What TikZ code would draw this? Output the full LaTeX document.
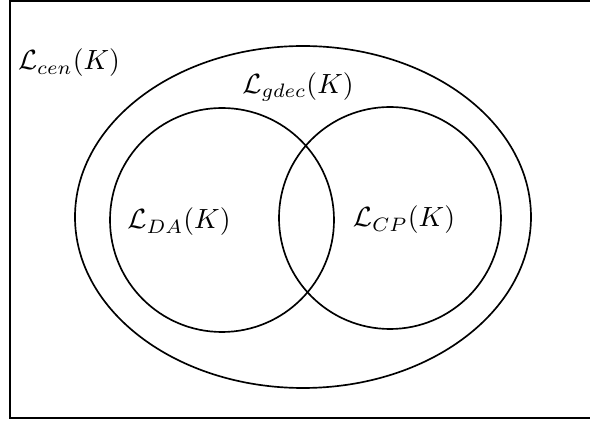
\documentclass[tikz,border=0pt]{standalone}
\usepackage{amsmath,amssymb}
\usepackage{tikz}
\usetikzlibrary{positioning}

\begin{document}
\begin{tikzpicture}[
  x=0.36pt,y=-0.36pt,
  set/.style={draw=black,line width=0.6pt},
  frame/.style={draw=black,line width=0.7pt},
  lab/.style={inner sep=0pt,font=\normalsize},
]
\useasboundingbox (0,0) rectangle (590,423);
% outer frame (open to the right)
\draw[frame] (590,1) -- (10,1) -- (10,418) -- (590,418);

% sets
\draw[set] (303,217) ellipse [x radius=228, y radius=171];
\draw[set] (222,220) circle [radius=112];
\draw[set] (390,218) circle [radius=111];

% labels
\node[lab] (cen)  at (69,63)   {$\mathcal{L}_{cen}(K)$};
\node[lab] (gdec) at (298,87)  {$\mathcal{L}_{gdec}(K)$};
\node[lab] (da)   at (179,222) {$\mathcal{L}_{DA}(K)$};
\node[lab] (cp)   at (404,220) {$\mathcal{L}_{CP}(K)$};
\end{tikzpicture}
\end{document}
